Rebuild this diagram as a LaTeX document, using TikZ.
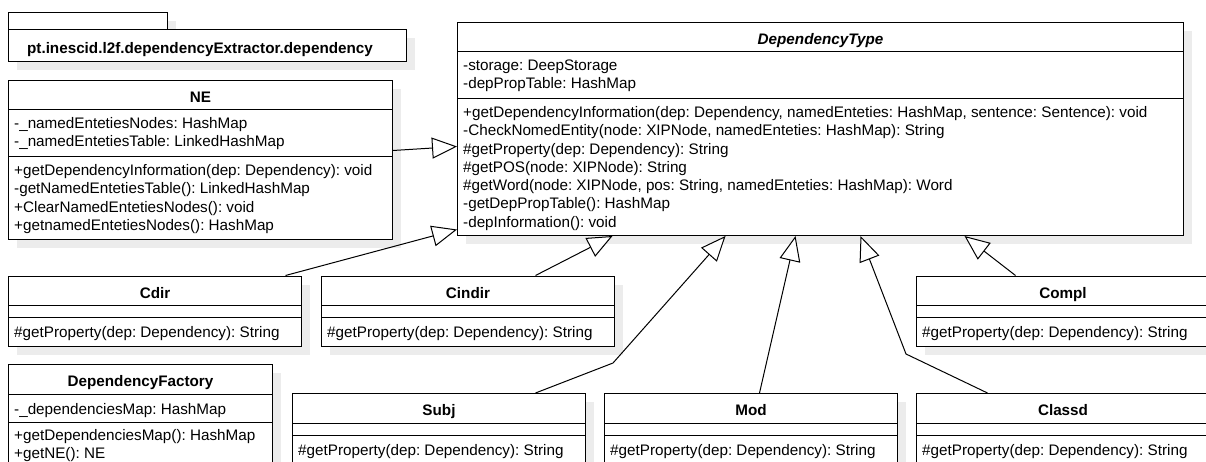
\documentclass[tikz,border=0pt]{standalone}
\usepackage{fontspec}
\setmainfont{Liberation Sans}
\usetikzlibrary{arrows.meta,calc,shadows}

\definecolor{shadowgray}{RGB}{236,236,236}
\newcommand{\umlfont}{\fontsize{15.25}{18.3}\selectfont\frenchspacing}

\tikzset{
  classbox/.style={draw, fill=white, line width=1pt, anchor=north west, inner sep=0pt,
    drop shadow={shadow xshift=8.5pt, shadow yshift=-8.5pt, fill=shadowgray, opacity=1}},
  classname/.style={anchor=base, font=\umlfont\bfseries},
  members/.style={anchor=north west, align=left, inner xsep=6pt, inner ysep=7.2pt,
    execute at begin node=\strut},
  inherits/.style={-{Triangle[length=25pt, width=21pt, fill=white]}, line width=1pt},
}

% #1 name, #2 top left corner, #3 width, #4 height, #5 height of the attribute part,
% #6 class name, #7 attributes, #8 operations
\newcommand{\umlclass}[8]{%
  \node[classbox, minimum width=#3pt, minimum height=#4pt] (#1) at (#2) {};
  \node[classname] (#1-title) at ($(#1.north)+(0,22.8)$) {#6};
  \draw[line width=1pt] ($(#1.north west)+(0,30)$) coordinate (#1-attr) -- ($(#1.north east)+(0,30)$);
  \draw[line width=1pt] ($(#1.north west)+(0,30+#5)$) coordinate (#1-op) -- ($(#1.north east)+(0,30+#5)$);
  \node[members] (#1-attrs) at (#1-attr) {#7};
  \node[members] (#1-ops) at (#1-op) {#8};
}

\begin{document}
\begin{tikzpicture}[x=1pt, y=-1pt, font=\umlfont]
  \useasboundingbox (0,0) rectangle (1206,462);
  \clip (0,0) rectangle (1206,462);

  % package
  \node[classbox, minimum width=159pt, minimum height=17pt] (pkg-tab) at (8,12) {};
  \node[classbox, minimum width=398pt, minimum height=32pt] (pkg) at (8,29) {};
  \node[classname] (pkg-title) at (200,53.3) {pt.inescid.l2f.dependencyExtractor.dependency};

  \umlclass{dt}{457,22}{726}{213}{47}{\textit{DependencyType}}
    {-storage: DeepStorage\\-depPropTable: HashMap}
    {+getDependencyInformation(dep: Dependency, namedEnteties: HashMap, sentence: Sentence): void\\
     -CheckNomedEntity(node: XIPNode, namedEnteties: HashMap): String\\
     \#getProperty(dep: Dependency): String\\
     \#getPOS(node: XIPNode): String\\
     \#getWord(node: XIPNode, pos: String, namedEnteties: HashMap): Word\\
     -getDepPropTable(): HashMap\\
     -depInformation(): void}

  \umlclass{ne}{8,80}{384}{159}{47}{NE}
    {-\_namedEntetiesNodes: HashMap\\-\_namedEntetiesTable: LinkedHashMap}
    {+getDependencyInformation(dep: Dependency): void\\
     -getNamedEntetiesTable(): LinkedHashMap\\
     +ClearNamedEntetiesNodes(): void\\
     +getnamedEntetiesNodes(): HashMap}

  \umlclass{cdir}{8,275.5}{293}{70}{12}{Cdir}{}{\#getProperty(dep: Dependency): String}
  \umlclass{cindir}{321,275.5}{293}{70}{12}{Cindir}{}{\#getProperty(dep: Dependency): String}
  \umlclass{compl}{916,275.5}{293}{70}{12}{Compl}{}{\#getProperty(dep: Dependency): String}

  \umlclass{df}{8,364}{264}{104}{28}{DependencyFactory}
    {-\_dependenciesMap: HashMap}
    {+getDependenciesMap(): HashMap\\+getNE(): NE}

  \umlclass{subj}{292,393}{293}{70}{12}{Subj}{}{\#getProperty(dep: Dependency): String}
  \umlclass{mod}{604,393}{293}{70}{12}{Mod}{}{\#getProperty(dep: Dependency): String}
  \umlclass{classd}{916,393}{293}{70}{12}{Classd}{}{\#getProperty(dep: Dependency): String}

  % bends
  \coordinate (subj-bend) at (613,363);
  \coordinate (classd-bend) at (906,354);

  % generalizations
  \draw[inherits] ([yshift=9.5pt]ne.east) -- ([yshift=-17.5pt]dt.west);
  \draw[inherits] ([xshift=130.5pt]cdir.north) -- ([yshift=-100.5pt]dt.west);
  \draw[inherits] ([xshift=67.5pt]cindir.north) -- ([xshift=-208pt]dt.south);
  \draw[inherits] ([xshift=96.5pt]subj.north) -- (subj-bend) -- ([xshift=-95pt]dt.south);
  \draw[inherits] ([xshift=8.5pt]mod.north) -- ([xshift=-25pt]dt.south);
  \draw[inherits] ([xshift=-75.5pt]classd.north) -- (classd-bend) -- ([xshift=40pt]dt.south);
  \draw[inherits] ([xshift=-47.5pt]compl.north) -- ([xshift=144pt]dt.south);
\end{tikzpicture}
\end{document}
